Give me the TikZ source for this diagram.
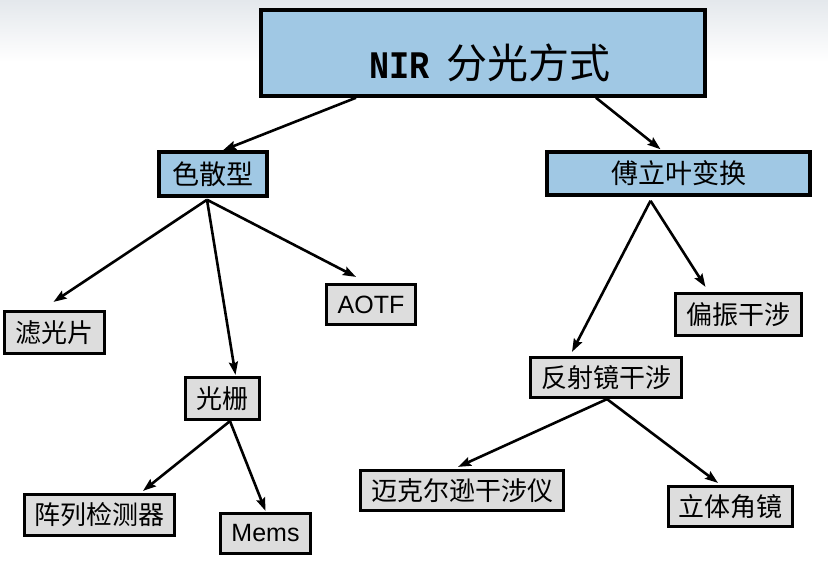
\documentclass[tikz,border=0pt]{standalone}
\usepackage{fontspec}
\setmainfont{Liberation Sans}
\newfontfamily\cjk{Noto Sans CJK SC}
\newfontfamily\titlemono{Liberation Mono}
\usetikzlibrary{arrows.meta}
\definecolor{boxblue}{HTML}{A0C8E4}
\definecolor{boxgray}{HTML}{DDDDDD}
\definecolor{topgray}{HTML}{E4E8EC}
\tikzset{
  bluebox/.style={draw=black, line width=3.5pt, fill=boxblue, inner sep=0pt, font=\fontsize{27}{30}\selectfont\cjk},
  graybox/.style={draw=black, line width=3.2pt, fill=boxgray, inner sep=0pt, font=\fontsize{26}{30}\selectfont\cjk},
  latinbox/.style={graybox, font=\fontsize{25}{30}\selectfont},
  arr/.style={line width=2.6pt, -{Stealth[length=13pt,width=9pt,inset=2pt]}},
}
\begin{document}
\begin{tikzpicture}[x=1pt,y=-1pt]
\useasboundingbox (0,0) rectangle (828,574);
\fill[white] (0,0) rectangle (828,574);
\shade[top color=topgray, bottom color=white] (0,0) rectangle (828,62);

\node[bluebox, minimum width=444, minimum height=86] (top) at (483,53)
  {\raisebox{-25pt}[0pt][0pt]{\hspace{14pt}\scalebox{0.86}[1]{\fontsize{39}{42}\selectfont\titlemono\bfseries NIR}\hspace{17pt}{\fontsize{41}{45}\selectfont\cjk 分光方式}}};
\node[bluebox, minimum width=108, minimum height=44] (sanse) at (213,174) {色散型};
\node[bluebox, minimum width=263, minimum height=43] (fourier) at (678.5,173.5) {傅立叶变换};

\node[graybox, minimum width=100, minimum height=42] (lvguang) at (54.5,332.5) {滤光片};
\node[latinbox, minimum width=89, minimum height=40] (aotf) at (371,304.5) {AOTF};
\node[graybox, minimum width=74, minimum height=42] (guangshan) at (222.5,398.5) {光栅};
\node[graybox, minimum width=150, minimum height=41] (zhenlie) at (99.5,515) {阵列检测器};
\node[latinbox, minimum width=90, minimum height=40] (mems) at (265.5,533.5) {Mems};
\node[graybox, minimum width=126, minimum height=42] (pianzhen) at (738.5,314.5) {偏振干涉};
\node[graybox, minimum width=151, minimum height=40] (fanshe) at (606,377.5) {反射镜干涉};
\node[graybox, minimum width=203, minimum height=40] (maike) at (462,490.5) {迈克尔逊干涉仪};
\node[graybox, minimum width=124, minimum height=40] (liti) at (730.5,506.5) {立体角镜};

\draw[arr] ([xshift=-127pt]top.south) -- ([xshift=10pt]sanse.north);
\draw[arr] ([xshift=113pt]top.south) -- ([xshift=-18pt,yshift=1pt]fourier.north);
\draw[arr] ([xshift=-6pt,yshift=-2pt]sanse.south) -- ([xshift=-1pt,yshift=8pt]lvguang.north);
\draw[arr] ([xshift=-6pt,yshift=-2pt]sanse.south) -- ([xshift=13pt,yshift=1pt]guangshan.north);
\draw[arr] ([xshift=-6pt,yshift=-2pt]sanse.south) -- ([xshift=-15pt,yshift=6pt]aotf.north);
\draw[arr] ([xshift=-28pt,yshift=-4pt]fourier.south) -- ([xshift=-34pt,yshift=4pt]fanshe.north);
\draw[arr] ([xshift=-28pt,yshift=-4pt]fourier.south) -- ([xshift=-33pt,yshift=5pt]pianzhen.north);
\draw[arr] ([xshift=7.5pt]guangshan.south) -- ([xshift=43.5pt,yshift=2pt]zhenlie.north);
\draw[arr] ([xshift=7.5pt]guangshan.south) -- ([yshift=1pt]mems.north);
\draw[arr] ([xshift=1pt]fanshe.south) -- ([xshift=-4pt,yshift=2pt]maike.north);
\draw[arr] ([xshift=1pt]fanshe.south) -- ([xshift=-12.5pt,yshift=2pt]liti.north);
\end{tikzpicture}
\end{document}
